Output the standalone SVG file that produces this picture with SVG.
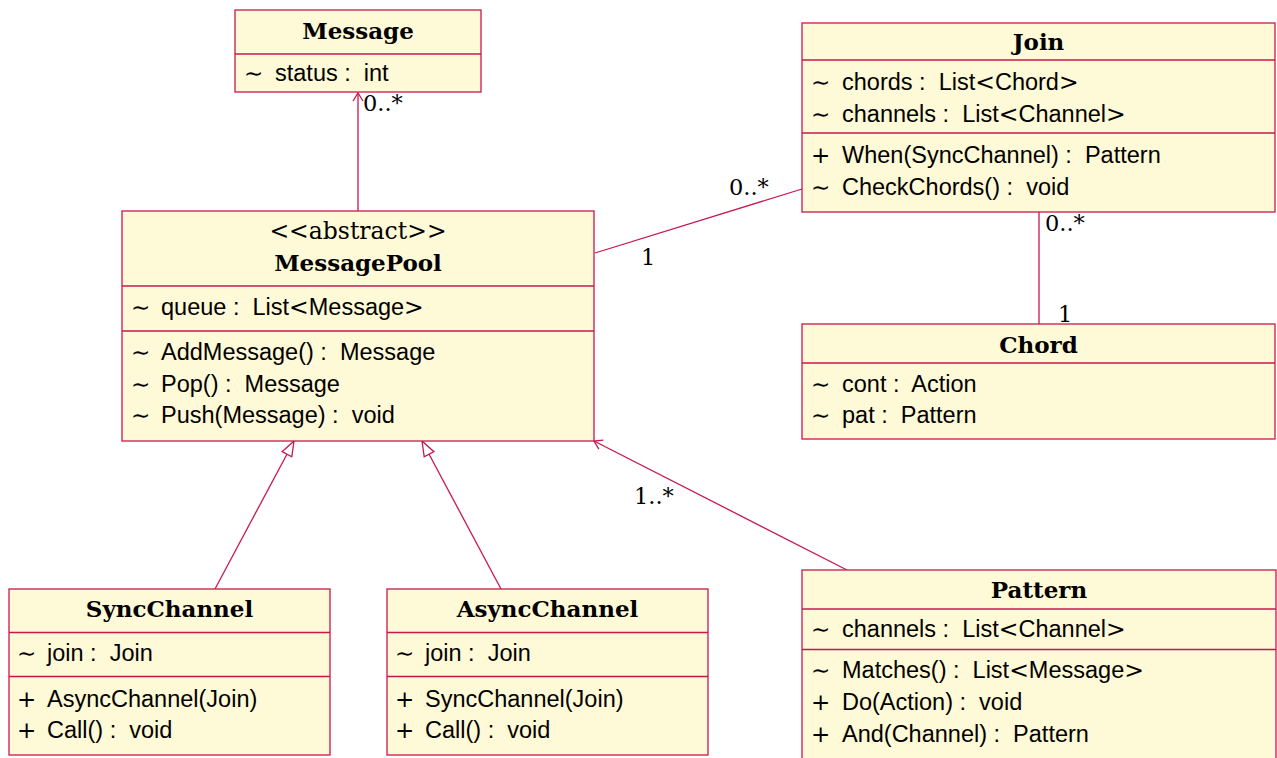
<svg xmlns="http://www.w3.org/2000/svg" width="1277" height="758" viewBox="0 0 1277 758">
<style>
.box{fill:#FEF9D6;stroke:#C8174E;stroke-width:1.3}
.div{stroke:#C8174E;stroke-width:1.3}
.ln{stroke:#C8174E;stroke-width:1.3;fill:none}
.t{font-family:"DejaVu Serif",serif;font-weight:bold;font-size:23px;text-anchor:middle;fill:#000}
.st{font-family:"DejaVu Serif",serif;font-size:23.5px;text-anchor:middle;fill:#000}
.lab{font-family:"DejaVu Serif",serif;font-size:22.5px;fill:#000}
.m{font-family:"Liberation Sans",Arial,sans-serif;font-size:23.5px;white-space:pre;fill:#000}
.a{font-family:"DejaVu Sans",sans-serif}
.sym{font-family:"DejaVu Sans",sans-serif;font-size:23px;fill:#000}
</style>
<defs>
<marker id="open" markerUnits="userSpaceOnUse" markerWidth="20" markerHeight="20" viewBox="-10 -10 20 20" refX="0" refY="0" orient="auto">
<path d="M-8,-5 L0,0 L-8,5" fill="none" stroke="#C8174E" stroke-width="1.3"/>
</marker>
<marker id="tri" markerUnits="userSpaceOnUse" markerWidth="24" markerHeight="24" viewBox="-18 -12 24 24" refX="0" refY="0" orient="auto">
<path d="M-15,-5.5 L0,0 L-15,5.5 Z" fill="#FFFFFF" stroke="#C8174E" stroke-width="1.3"/>
</marker>
</defs>

<g id="connectors">
<line class="ln" x1="358" y1="211" x2="358" y2="93" marker-end="url(#open)"/>
<text class="lab" x="363" y="111">0..*</text>
<line class="ln" x1="595" y1="253" x2="802" y2="189"/>
<text class="lab" x="729" y="195">0..*</text>
<text class="lab" x="641" y="265">1</text>
<line class="ln" x1="1039" y1="212" x2="1039" y2="324"/>
<text class="lab" x="1045" y="231">0..*</text>
<text class="lab" x="1058" y="322">1</text>
<line class="ln" x1="215" y1="589" x2="294" y2="441" marker-end="url(#tri)"/>
<line class="ln" x1="501" y1="589" x2="422" y2="441" marker-end="url(#tri)"/>
<line class="ln" x1="847" y1="570" x2="594" y2="441" marker-end="url(#open)"/>
<text class="lab" x="634" y="504">1..*</text>
</g>

<g id="Message">
<rect class="box" x="235" y="10" width="246" height="82"/>
<line class="div" x1="235" y1="54" x2="481" y2="54"/>
<text class="t" x="358" y="39">Message</text>
<text class="sym" x="244" y="81">∼</text><text class="m" x="275" y="81">status :  int</text>
</g>

<g id="MessagePool">
<rect class="box" x="122" y="211" width="472" height="230"/>
<line class="div" x1="122" y1="286" x2="594" y2="286"/>
<line class="div" x1="122" y1="331" x2="594" y2="331"/>
<text class="st" x="358" y="239">&lt;&lt;abstract&gt;&gt;</text>
<text class="t" x="358" y="271">MessagePool</text>
<text class="sym" x="131" y="315">∼</text><text class="m" x="161" y="315">queue :  List<tspan class="a">&lt;</tspan>Message<tspan class="a">&gt;</tspan></text>
<text class="sym" x="131" y="360">∼</text><text class="m" x="161" y="360">AddMessage() :  Message</text>
<text class="sym" x="131" y="392">∼</text><text class="m" x="161" y="392">Pop() :  Message</text>
<text class="sym" x="131" y="423">∼</text><text class="m" x="161" y="423">Push(Message) :  void</text>
</g>

<g id="Join">
<rect class="box" x="802" y="23" width="473" height="189"/>
<line class="div" x1="802" y1="60" x2="1275" y2="60"/>
<line class="div" x1="802" y1="133" x2="1275" y2="133"/>
<text class="t" x="1038.5" y="50">Join</text>
<text class="sym" x="811" y="90">∼</text><text class="m" x="842" y="90">chords :  List<tspan class="a">&lt;</tspan>Chord<tspan class="a">&gt;</tspan></text>
<text class="sym" x="811" y="121.5">∼</text><text class="m" x="842" y="121.5">channels :  List<tspan class="a">&lt;</tspan>Channel<tspan class="a">&gt;</tspan></text>
<text class="sym" x="811" y="163">+</text><text class="m" x="842" y="163">When(SyncChannel) :  Pattern</text>
<text class="sym" x="811" y="195">∼</text><text class="m" x="842" y="195">CheckChords() :  void</text>
</g>

<g id="Chord">
<rect class="box" x="802" y="324" width="473" height="115"/>
<line class="div" x1="802" y1="363" x2="1275" y2="363"/>
<text class="t" x="1038.5" y="353">Chord</text>
<text class="sym" x="811" y="391.5">∼</text><text class="m" x="842" y="391.5">cont :  Action</text>
<text class="sym" x="811" y="422.5">∼</text><text class="m" x="842" y="422.5">pat :  Pattern</text>
</g>

<g id="SyncChannel">
<rect class="box" x="9" y="589" width="321" height="166"/>
<line class="div" x1="9" y1="632.5" x2="330" y2="632.5"/>
<line class="div" x1="9" y1="676.5" x2="330" y2="676.5"/>
<text class="t" x="169.5" y="617">SyncChannel</text>
<text class="sym" x="17" y="661">∼</text><text class="m" x="47" y="661">join :  Join</text>
<text class="sym" x="17" y="706.5">+</text><text class="m" x="47" y="706.5">AsyncChannel(Join)</text>
<text class="sym" x="17" y="738">+</text><text class="m" x="47" y="738">Call() :  void</text>
</g>

<g id="AsyncChannel">
<rect class="box" x="387" y="589" width="321" height="166"/>
<line class="div" x1="387" y1="632.5" x2="708" y2="632.5"/>
<line class="div" x1="387" y1="676.5" x2="708" y2="676.5"/>
<text class="t" x="547.5" y="617">AsyncChannel</text>
<text class="sym" x="395" y="661">∼</text><text class="m" x="425" y="661">join :  Join</text>
<text class="sym" x="395" y="706.5">+</text><text class="m" x="425" y="706.5">SyncChannel(Join)</text>
<text class="sym" x="395" y="738">+</text><text class="m" x="425" y="738">Call() :  void</text>
</g>

<g id="Pattern">
<rect class="box" x="802" y="570" width="474" height="200"/>
<line class="div" x1="802" y1="609" x2="1276" y2="609"/>
<line class="div" x1="802" y1="649.5" x2="1276" y2="649.5"/>
<text class="t" x="1039" y="598">Pattern</text>
<text class="sym" x="811" y="637">∼</text><text class="m" x="842" y="637">channels :  List<tspan class="a">&lt;</tspan>Channel<tspan class="a">&gt;</tspan></text>
<text class="sym" x="811" y="678">∼</text><text class="m" x="842" y="678">Matches() :  List<tspan class="a">&lt;</tspan>Message<tspan class="a">&gt;</tspan></text>
<text class="sym" x="811" y="710">+</text><text class="m" x="842" y="710">Do(Action) :  void</text>
<text class="sym" x="811" y="741.5">+</text><text class="m" x="842" y="741.5">And(Channel) :  Pattern</text>
</g>
</svg>
